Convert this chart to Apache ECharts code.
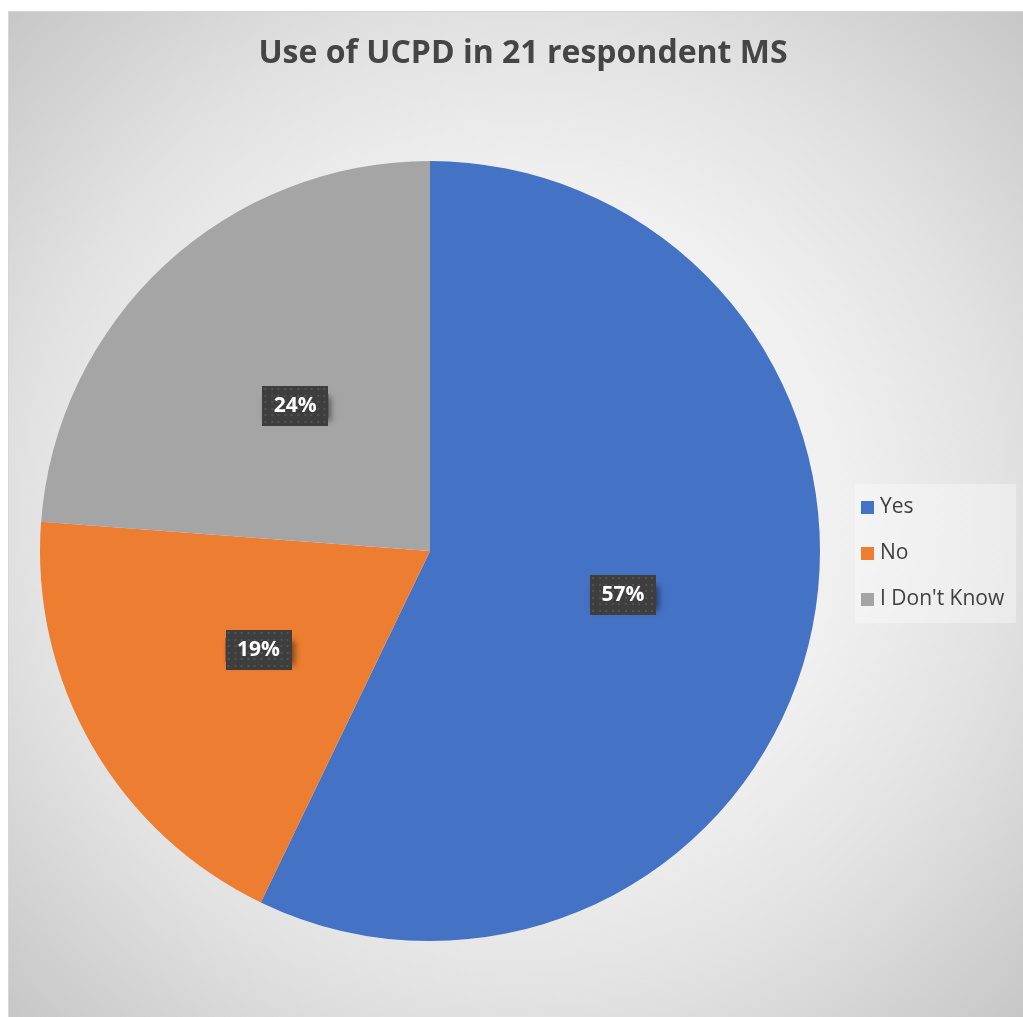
<!DOCTYPE html>
<html>
<head>
<meta charset="utf-8">
<title>Use of UCPD in 21 respondent MS</title>
<script src="https://cdn.jsdelivr.net/npm/echarts@6/dist/echarts.min.js"></script>
<style>
  html, body { margin: 0; padding: 0; background: #ffffff; }
  #chart { width: 1023px; height: 1017px; }
</style>
</head>
<body>
<div id="chart"></div>
<script>
// Survey answers from the 21 responding Member States
const titleText = 'Use of UCPD in 21 respondent MS';
const categories = ['Yes', 'No', "I Don't Know"];
const counts = [12, 4, 5];
const sliceColors = ['#4472C4', '#ED7D31', '#A5A5A5'];

// Dark, lightly dotted tile used behind the percentage labels
const LABEL_W = 66, LABEL_H = 40;
function dottedTile() {
  const c = document.createElement('canvas');
  c.width = LABEL_W; c.height = LABEL_H;
  const g = c.getContext('2d');
  g.fillStyle = '#3e3e3e';
  g.fillRect(0, 0, LABEL_W, LABEL_H);
  g.fillStyle = '#535353';
  for (let y = 2; y < LABEL_H; y += 6.6) {
    for (let x = 2; x < LABEL_W; x += 6.6) {
      g.fillRect(Math.round(x), Math.round(y), 2, 2);
    }
  }
  return c;
}
const tile = dottedTile();

const chart = echarts.init(document.getElementById('chart'), null, { renderer: 'canvas' });

const pieData = categories.map((name, i) => ({
  name: name,
  value: counts[i],
  itemStyle: { color: sliceColors[i] }
}));

const option = {
  animation: false,
  graphic: [
    {
      type: 'rect',
      z: -10,
      silent: true,
      shape: { x: 8.5, y: 11.5, width: 1020, height: 1010 },
      style: {
        fill: {
          type: 'radial', x: 515, y: 514, r: 720, global: true,
          colorStops: [
            { offset: 0, color: '#fbfbfb' },
            { offset: 0.45, color: '#f0f0f0' },
            { offset: 0.68, color: '#e2e2e2' },
            { offset: 1, color: '#c6c6c6' }
          ]
        },
        stroke: '#d6d6d6',
        lineWidth: 1
      }
    }
  ],
  title: {
    text: titleText,
    left: 518,
    top: 33,
    textAlign: 'center',
    textStyle: {
      fontFamily: 'Open Sans',
      fontWeight: 'bold',
      fontSize: 32,
      color: '#454545'
    }
  },
  legend: {
    orient: 'vertical',
    left: 855,
    top: 484,
    padding: [13, 12, 13, 6],
    backgroundColor: 'rgba(255,255,255,0.35)',
    itemWidth: 13,
    itemHeight: 13,
    itemGap: 25,
    icon: 'rect',
    data: categories,
    textStyle: {
      fontFamily: 'Open Sans',
      fontSize: 21,
      lineHeight: 20,
      padding: [0, 0, 0, 1],
      color: '#404040'
    }
  },
  series: [
    {
      type: 'pie',
      center: [430, 551],
      radius: [0, 390],
      startAngle: 90,
      clockwise: true,
      percentPrecision: 0,
      avoidLabelOverlap: false,
      itemStyle: { borderWidth: 0 },
      label: {
        show: true,
        position: 'inside',
        formatter: '{p|{d}%}',
        padding: 0,
        backgroundColor: '#3e3e3e',
        shadowColor: 'rgba(0,0,0,0.45)',
        shadowBlur: 6,
        shadowOffsetX: 3,
        shadowOffsetY: 3,
        rich: {
          p: {
            fontFamily: 'Open Sans',
            fontWeight: 'bold',
            fontSize: 21,
            lineHeight: 24,
            width: LABEL_W - 20,
            height: LABEL_H - 16,
            padding: [8, 10, 8, 10],
            align: 'center',
            verticalAlign: 'middle',
            color: '#ffffff',
            backgroundColor: { image: tile }
          }
        }
      },
      labelLine: { show: false },
      emphasis: { disabled: true },
      data: pieData
    }
  ]
};

chart.setOption(option);
</script>
</body>
</html>
